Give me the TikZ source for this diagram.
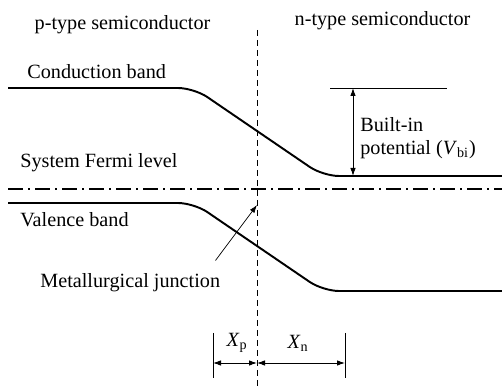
\documentclass[tikz,border=0pt]{standalone}
\usepackage{fontspec}
\setmainfont{Liberation Serif}
\usepackage{tikz}
\usetikzlibrary{arrows.meta,positioning}

\begin{document}
\begin{tikzpicture}[
  bandline/.style={line width=1.1pt,rounded corners=0.32cm},
  dimline/.style={line width=0.5pt,{Latex[length=1.6mm,width=1.1mm]}-{Latex[length=1.6mm,width=1.1mm]}},
  txt/.style={font=\fontsize{11.5}{13}\selectfont,inner sep=0pt}]
\useasboundingbox (0,0) rectangle (10.04,7.74);
% metallurgical junction
\coordinate (jtop) at (5.14,7.14);
\coordinate (jbot) at (5.14,0);
\draw[line width=0.5pt,dash pattern=on 0.12cm off 0.08cm] (jtop) -- (jbot);
% bands and Fermi level
\draw[bandline] (0.16,5.98) -- (3.88,5.98) -- (6.46,4.22) -- (10.04,4.22);
\draw[bandline] (0.16,3.68) -- (3.88,3.68) -- (6.46,1.92) -- (10.04,1.92);
\draw[line width=1pt,dash pattern=on 0.3cm off 0.1cm on 0.04cm off 0.1cm] (0.16,3.96) -- (10.04,3.96);
% labels
\node[txt] (ptype) at (2.45,7.24) {p-type semiconductor};
\node[txt] (ntype) at (7.65,7.32) {n-type semiconductor};
\node[txt,anchor=west] (cband) at (0.54,6.3) {Conduction band};
\node[txt,anchor=west] (fermi) at (0.4,4.48) {System Fermi level};
\node[txt,anchor=west] (vband) at (0.4,3.34) {Valence band};
\node[txt,anchor=west] (mjunc) at (0.8,2.08) {Metallurgical junction};
\node[txt,anchor=west,align=left] (vbi) at (7.2,4.98) {Built-in\\potential (\textit{V}\textsubscript{bi})};
% built-in potential
\coordinate (vtop) at (7.06,5.98);
\coordinate (vbot) at (7.06,4.22);
\draw[line width=0.5pt] (6.6,5.98) -- (8.94,5.98);
\draw[dimline] (vtop) -- (vbot);
% junction pointer
\coordinate (jtip) at (5.14,3.64);
\draw[line width=0.4pt,-{Latex[length=1.6mm,width=1.1mm]}] ([xshift=-0.1cm,yshift=0.26cm]mjunc.north east) -- (jtip);
% depletion widths
\coordinate (xpl) at (4.26,0.48);
\coordinate (xj) at (5.14,0.48);
\coordinate (xnr) at (6.9,0.48);
\draw[line width=0.5pt] (4.26,1.08) -- (4.26,0.18);
\draw[line width=0.5pt] (6.9,1.08) -- (6.9,0.18);
\draw[dimline] (xpl) -- (xj);
\draw[dimline] (xj) -- (xnr);
\node[txt] (xp) at (4.74,0.88) {\textit{X}\textsubscript{p}};
\node[txt] (xn) at (5.96,0.88) {\textit{X}\textsubscript{n}};
\end{tikzpicture}
\end{document}
